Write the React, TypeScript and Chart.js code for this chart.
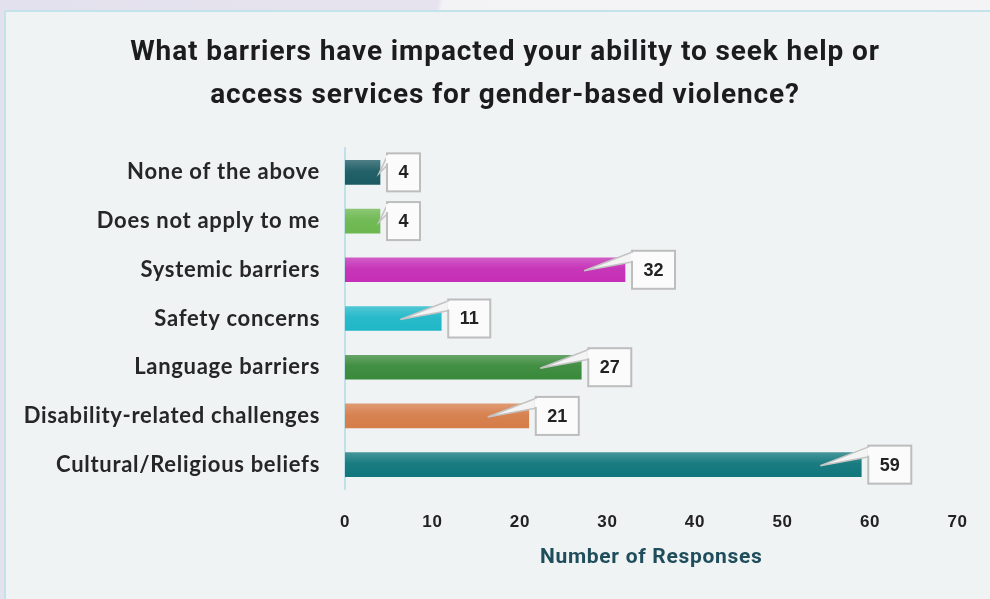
import React, { useEffect, useRef } from "react";
import { Chart, registerables } from "chart.js";

Chart.register(...registerables);

const titleLines = [
  "What barriers have impacted your ability to seek help or",
  "access services for gender-based violence?",
];
const categories = [
  "None of the above",
  "Does not apply to me",
  "Systemic barriers",
  "Safety concerns",
  "Language barriers",
  "Disability-related challenges",
  "Cultural/Religious beliefs",
];
const responses = [4, 4, 32, 11, 27, 21, 59];
const barColors = [
  "#1b5a62",
  "#6cb74f",
  "#c52eb6",
  "#1fb7c8",
  "#398a3b",
  "#d67d4a",
  "#10777c",
];
const xAxisTitle = "Number of Responses";
const xMin = 0;
const xMax = 70;
const xStep = 10;

function lighten(hex: string, amt: number): string {
  const n = parseInt(hex.slice(1), 16);
  const r = (n >> 16) & 255;
  const g = (n >> 8) & 255;
  const b = n & 255;
  const f = (c: number) => Math.round(c + (255 - c) * amt);
  return `rgb(${f(r)},${f(g)},${f(b)})`;
}

const spacingPlugin = {
  id: "spacing",
  beforeDraw(chart: any) {
    (chart.ctx as any).letterSpacing = "0.7px";
  },
};

const titlePlugin = {
  id: "customTitle",
  afterDraw(chart: any) {
    const ctx = chart.ctx;
    ctx.save();
    (ctx as any).letterSpacing = "0.9px";
    ctx.font = "bold 28px Roboto, 'Liberation Sans', sans-serif";
    ctx.fillStyle = "#1c1c1c";
    ctx.textAlign = "center";
    ctx.textBaseline = "middle";
    const cx = chart.width / 2 + 10;
    titleLines.forEach((line, i) => {
      ctx.fillText(line, cx, 53 + i * 43);
    });
    ctx.restore();
  },
};

const calloutPlugin = {
  id: "callouts",
  afterDatasetsDraw(chart: any) {
    const ctx = chart.ctx;
    const meta = chart.getDatasetMeta(0);
    const data = chart.data.datasets[0].data;
    ctx.save();
    (ctx as any).letterSpacing = "0px";
    ctx.font = "bold 18px 'Liberation Sans', Arial, sans-serif";
    meta.data.forEach((bar: any, i: number) => {
      const text = String(data[i]);
      const endX = bar.x;
      const cy = bar.y;
      const baseX = bar.base;
      const tw = ctx.measureText(text).width;
      const w = Math.round(tw + 23);
      const h = 38;
      const bx = endX + 7;
      const by = cy - h / 2;
      const tipX = endX - baseX > 60 ? endX - 41 : endX - 1;
      const tipY = cy + 1;
      ctx.beginPath();
      ctx.moveTo(tipX, tipY);
      ctx.lineTo(bx + 1, by + 1);
      ctx.lineTo(bx + 1, by + 11);
      ctx.closePath();
      ctx.fillStyle = "#f4f4f4";
      ctx.fill();
      ctx.strokeStyle = "#c4c4c4";
      ctx.lineWidth = 1.5;
      ctx.beginPath();
      ctx.moveTo(bx + 1, by + 1);
      ctx.lineTo(tipX, tipY);
      ctx.lineTo(bx + 1, by + 11);
      ctx.stroke();
      ctx.fillStyle = "#fbfbfb";
      ctx.fillRect(bx, by, w, h);
      ctx.strokeStyle = "#bdbdbd";
      ctx.lineWidth = 2;
      ctx.strokeRect(bx, by, w, h);
      ctx.fillStyle = "#fbfbfb";
      ctx.fillRect(bx - 1, by + 2, 3, 8);
      ctx.fillStyle = "#222222";
      ctx.textAlign = "center";
      ctx.textBaseline = "middle";
      ctx.fillText(text, bx + w / 2, cy + 1);
    });
    ctx.restore();
  },
};

export default function App() {
  const canvasRef = useRef<HTMLCanvasElement | null>(null);

  useEffect(() => {
    const canvas = canvasRef.current;
    if (!canvas) return;
    const chart = new Chart(canvas, {
      type: "bar",
      data: {
        labels: categories,
        datasets: [
          {
            data: responses,
            backgroundColor: (c: any) => {
              const base = barColors[c.dataIndex] || "#888888";
              const yScale = c.chart.scales && c.chart.scales.y;
              if (!yScale || c.type !== "data") return base;
              const cy = yScale.getPixelForValue(c.dataIndex);
              if (!isFinite(cy)) return base;
              const g = c.chart.ctx.createLinearGradient(0, cy - 12, 0, cy + 12);
              g.addColorStop(0, lighten(base, 0.22));
              g.addColorStop(0.45, lighten(base, 0.04));
              g.addColorStop(1, base);
              return g;
            },
            borderWidth: 0,
            barThickness: 24,
          },
        ],
      },
      options: {
        indexAxis: "y",
        responsive: false,
        animation: false,
        layout: { padding: { left: 0, right: 32, top: 148, bottom: 0 } },
        plugins: {
          legend: { display: false },
          tooltip: { enabled: false },
          title: { display: false },
        },
        scales: {
          x: {
            type: "linear",
            min: xMin,
            max: xMax,
            ticks: {
              stepSize: xStep,
              padding: 23,
              color: "#222222",
              font: { family: "'Liberation Sans', Arial, sans-serif", size: 17, weight: "bold" },
            },
            grid: { display: false, drawTicks: false },
            border: { display: false },
            title: {
              display: true,
              text: xAxisTitle,
              color: "#1f4d5c",
              font: {
                family: "Roboto, 'Liberation Sans', sans-serif",
                size: 21,
                weight: "bold",
              },
              padding: { top: 0, bottom: 29 },
            },
            afterFit(scale: any) {
              scale.height = 110;
            },
          },
          y: {
            type: "category",
            ticks: {
              padding: 25,
              color: "#262626",
              font: { family: "Lato, sans-serif", size: 22, weight: "bold" },
            },
            grid: { display: false, drawTicks: false },
            border: { display: true, color: "#bfe1e9", width: 2 },
            afterFit(scale: any) {
              scale.width = 345;
            },
          },
        },
      },
      plugins: [spacingPlugin, calloutPlugin, titlePlugin],
    } as any);
    return () => chart.destroy();
  }, []);

  return (
    <div
      style={{
        position: "fixed",
        left: 0,
        top: 0,
        width: 990,
        height: 599,
        overflow: "hidden",
        background: "linear-gradient(100deg, #e4e1ee 0%, #e6e3ef 40%, #f3f3f6 40.5%, #f4f4f7 100%)",
      }}
    >
      <div
        style={{
          position: "absolute",
          left: 4,
          top: 10,
          right: 0,
          bottom: 0,
          background: "#eff3f4",
          borderLeft: "2px solid #c3e3ea",
          borderTop: "2px solid #c3e3ea",
          borderTopLeftRadius: 3,
        }}
      />
      <canvas
        ref={canvasRef}
        width={990}
        height={599}
        style={{ position: "absolute", left: 0, top: 0, width: 990, height: 599 }}
      />
    </div>
  );
}
